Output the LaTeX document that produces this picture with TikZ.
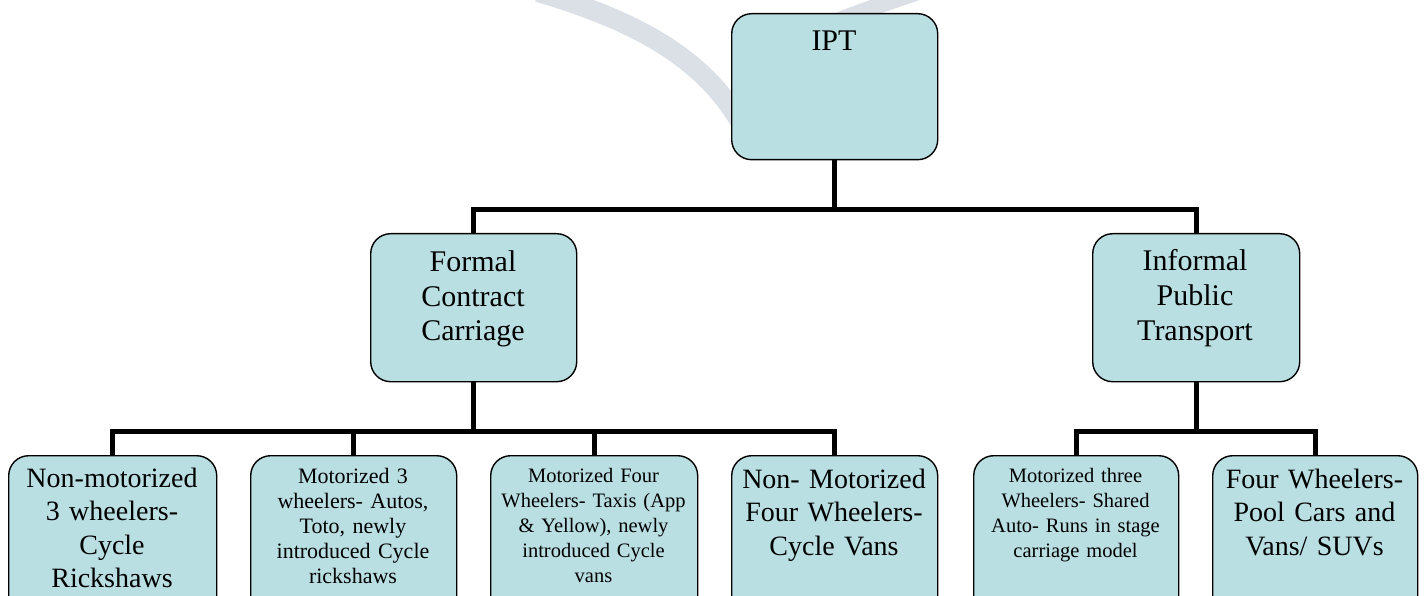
\documentclass[tikz,border=0pt]{standalone}
\usepackage{fontspec}
\setmainfont{Liberation Serif}
\definecolor{boxfill}{RGB}{186,223,227}
\definecolor{wmgrey}{RGB}{219,224,231}
\begin{document}
\begin{tikzpicture}[x=1pt,y=-1pt,
  box/.style={draw=black,line width=1.4pt,fill=boxfill,rounded corners=20pt,
    inner sep=0pt,anchor=north west},
  conn/.style={line width=5pt,line join=miter,line cap=butt},
  txt/.style={anchor=base,text width=204pt,align=center,inner sep=0pt},
  huge/.style={font=\fontsize{30}{35}\selectfont},
  big/.style={font=\fontsize{28}{33.5}\selectfont},
  small/.style={font=\fontsize{#1}{25}\selectfont},
  small/.default=20.5]
\useasboundingbox (0,0) rectangle (1424,596);
\clip (0,0) rectangle (1424,596);
% watermark
\draw[wmgrey,line width=20pt] (538,-8) .. controls (640,22) and (705,60) .. (742,125);
\draw[wmgrey,line width=16pt] (822,28) .. controls (850,14) and (885,4) .. (918,-8);
% helper coordinates for the bars
\coordinate (bar1) at (0,210);
\coordinate (bar2) at (0,431);
% boxes
\node[box,minimum width=206pt,minimum height=146pt] (ipt) at (731,13) {};
\node[box,minimum width=206pt,minimum height=148pt] (formal) at (370,233) {};
\node[box,minimum width=207pt,minimum height=148pt] (informal) at (1092,233) {};
\node[box,minimum width=208pt,minimum height=180pt] (b1) at (8,455) {};
\node[box,minimum width=206pt,minimum height=180pt] (b2) at (250,455) {};
\node[box,minimum width=207pt,minimum height=180pt] (b3) at (490,455) {};
\node[box,minimum width=206pt,minimum height=180pt] (b4) at (731,455) {};
\node[box,minimum width=205pt,minimum height=180pt] (b5) at (973,455) {};
\node[box,minimum width=205pt,minimum height=180pt] (b6) at (1212,455) {};
% connectors
\draw[conn] (ipt.south) -- (ipt.south |- bar1);
\draw[conn] (formal.north) -- (formal.north |- bar1) -- (informal.north |- bar1) -- (informal.north);
\draw[conn] (formal.south) -- (formal.south |- bar2);
\draw[conn] (b1.north) -- (b1.north |- bar2) -- (b4.north |- bar2) -- (b4.north);
\draw[conn] (b2.north) -- (b2.north |- bar2);
\draw[conn] (b3.north) -- (b3.north |- bar2);
\draw[conn] (informal.south) -- (informal.south |- bar2);
\draw[conn] (b5.north) -- (b5.north |- bar2) -- (b6.north |- bar2) -- (b6.north);
% texts
\node[txt,huge] (ipt-t) at (834,51) {IPT};
\node[txt,huge] (formal-t) at (473,271) {Formal\\Contract\\Carriage};
\node[txt,huge] (informal-t) at (1195,270) {Informal\\Public\\Transport};
\node[txt,big] (b1-t) at (112,487) {Non-motorized\\3 wheelers-\\Cycle\\Rickshaws};
\node[txt,small=22] (b2-t) at (353,483) {Motorized 3\\wheelers- Autos,\\Toto, newly\\introduced Cycle\\rickshaws};
\node[txt,small] (b3-t) at (593.5,482) {Motorized Four\\Wheelers- Taxis (App\\\& Yellow), newly\\introduced Cycle\\vans};
\node[txt,big] (b4-t) at (834,488) {Non- Motorized\\Four Wheelers-\\Cycle Vans};
\node[txt,small] (b5-t) at (1075.5,482) {Motorized three\\Wheelers- Shared\\Auto- Runs in stage\\carriage model};
\node[txt,big] (b6-t) at (1314.5,488) {Four Wheelers-\\Pool Cars and\\Vans/ SUVs};
\end{tikzpicture}
\end{document}
